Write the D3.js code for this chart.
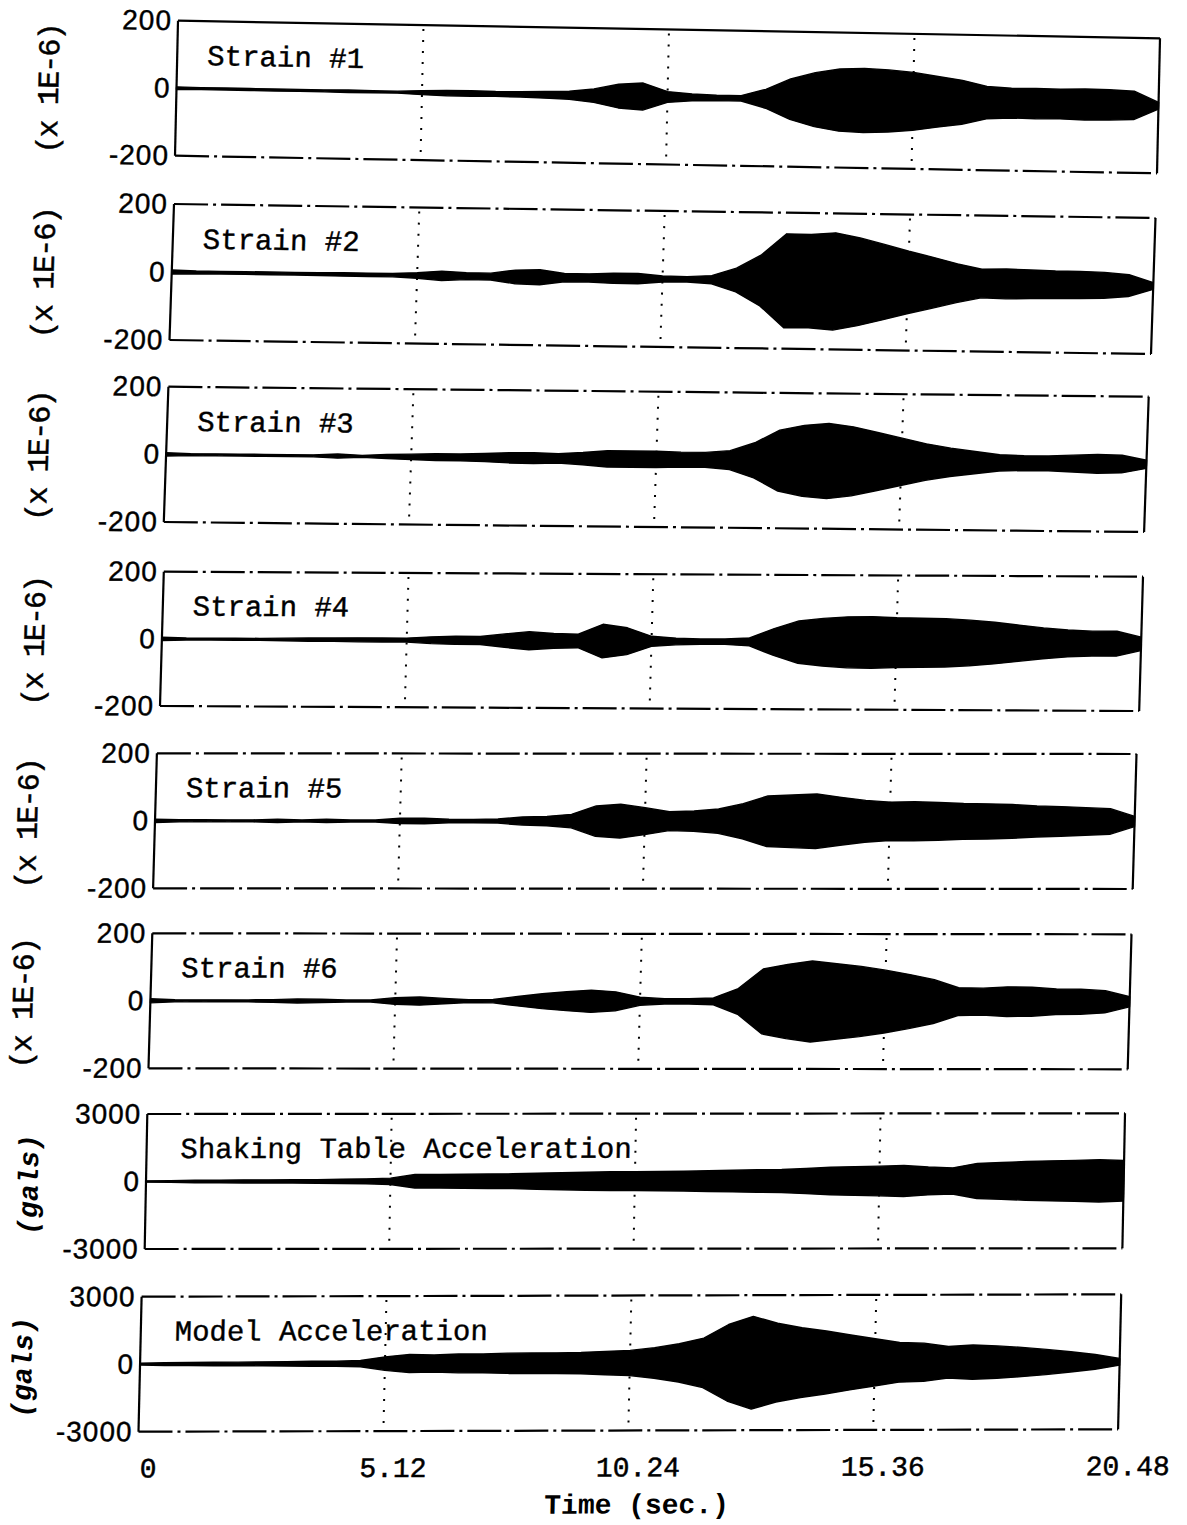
<!DOCTYPE html>
<html>
<head>
<meta charset="utf-8">
<script src="https://cdn.jsdelivr.net/npm/d3@7/dist/d3.min.js"></script>
<style>
  body { margin: 0; background: #fff; }
  svg { display: block; }
  .ytick text { font-family: "Liberation Sans", Arial, sans-serif; font-size: 28px; letter-spacing: 1px; fill: #000; stroke: #000; stroke-width: 0.4px; }
  .xtick text { font-family: "Liberation Mono", monospace; font-size: 28px; fill: #000; stroke: #000; stroke-width: 0.5px; }
  .title { font-family: "Liberation Mono", monospace; font-size: 29px; fill: #000; stroke: #000; stroke-width: 0.4px; }
  .ylab { font-family: "Liberation Mono", monospace; font-size: 30px; letter-spacing: -1.8px; fill: #000; stroke: #000; stroke-width: 0.5px; }
  .ylab.acc { font-style: italic; font-weight: bold; font-size: 28px; letter-spacing: 0; stroke-width: 0; }
  .xlab { font-family: "Liberation Mono", monospace; font-size: 28px; font-weight: bold; fill: #000; }
</style>
</head>
<body>
<div id="chart"></div>
<script>
// sample times (sec.) of the envelope readings
const times = [0, 0.512, 1.024, 1.536, 2.048, 2.56, 3.072, 3.584, 4.096, 4.608,
  5.12, 5.632, 6.144, 6.656, 7.168, 7.68, 8.192, 8.704, 9.216, 9.728,
  10.24, 10.752, 11.264, 11.776, 12.288, 12.8, 13.312, 13.824, 14.336, 14.848,
  15.36, 15.872, 16.384, 16.896, 17.408, 17.92, 18.432, 18.944, 19.456, 19.968, 20.48];

// peak amplitude envelopes (x 1E-6 for strains, gals for accelerations)
const strain1 = [4, 3, 3, 3, 3, 3, 3, 4, 3, 3,
  6, 8, 8, 7, 8, 10, 12, 20, 35, 40,
  16, 10, 8, 8, 28, 60, 80, 92, 95, 92,
  86, 75, 65, 48, 44, 45, 44, 46, 45, 42, 10];
const strain2 = [6, 4, 4, 4, 4, 4, 4, 5, 5, 5,
  8, 14, 10, 10, 20, 22, 12, 12, 15, 15,
  9, 8, 12, 35, 75, 138, 137, 143, 129, 111,
  92, 75, 57, 42, 44, 42, 40, 40, 38, 32, 10];
const strain3 = [5, 3, 3, 3, 3, 3, 3, 6, 3, 6,
  8, 10, 10, 12, 15, 16, 14, 18, 24, 24,
  24, 22, 22, 28, 52, 90, 105, 111, 102, 86,
  70, 54, 42, 33, 24, 22, 22, 25, 28, 26, 12];
const strain4 = [5, 3, 3, 3, 3, 4, 5, 5, 6, 6,
  6, 10, 12, 12, 20, 27, 22, 20, 50, 40,
  15, 10, 8, 8, 12, 40, 63, 71, 76, 77,
  74, 73, 72, 68, 62, 54, 46, 40, 37, 37, 20];
const strain5 = [5, 3, 3, 3, 3, 5, 3, 5, 3, 3,
  8, 8, 5, 5, 6, 12, 14, 20, 45, 50,
  40, 28, 30, 36, 52, 75, 78, 81, 71, 62,
  57, 58, 56, 53, 52, 50, 46, 44, 41, 38, 15];
const strain6 = [6, 3, 3, 3, 3, 4, 6, 5, 3, 3,
  10, 12, 8, 4, 5, 14, 22, 28, 33, 28,
  12, 8, 8, 10, 38, 96, 110, 120, 112, 104,
  93, 80, 65, 41, 40, 44, 43, 38, 37, 33, 15];
const tableAcc = [30, 40, 60, 60, 70, 70, 70, 80, 100, 110,
  140, 300, 300, 310, 320, 330, 360, 380, 400, 420,
  420, 430, 440, 460, 480, 500, 510, 560, 610, 640,
  660, 690, 620, 580, 780, 820, 860, 890, 910, 940, 900];
const modelAcc = [40, 60, 70, 80, 80, 90, 100, 110, 110, 140,
  300, 400, 380, 420, 420, 450, 460, 460, 470, 520,
  560, 680, 850, 1100, 1700, 2060, 1750, 1550, 1400, 1220,
  1050, 880, 850, 700, 760, 720, 650, 560, 450, 330, 150];

const titles = ['Strain #1', 'Strain #2', 'Strain #3', 'Strain #4', 'Strain #5', 'Strain #6',
  'Shaking Table Acceleration', 'Model Acceleration'];
const series = [strain1, strain2, strain3, strain4, strain5, strain6, tableAcc, modelAcc];
const strainTicks = [200, 0, -200];
const accTicks = [3000, 0, -3000];
const gridTimes = [5.12, 10.24, 15.36];
const xTicks = [0, 5.12, 10.24, 15.36, 20.48];
const xTickLabels = ['0', '5.12', '10.24', '15.36', '20.48'];

// corners of each scanned frame (top-left, top-right, bottom-left); the scan is slightly skewed
const frames = [
  { tl: [178, 20.7], tr: [1160, 38.3], bl: [175, 155.7] },
  { tl: [174, 204], tr: [1155.5, 218], bl: [169.5, 340] },
  { tl: [168.4, 386.7], tr: [1148.7, 396.7], bl: [163.8, 522] },
  { tl: [163.8, 571.7], tr: [1143, 576.7], bl: [160, 706] },
  { tl: [156.9, 753.3], tr: [1136.5, 754], bl: [153.1, 888.3] },
  { tl: [152.3, 933.3], tr: [1131.5, 934.3], bl: [148.5, 1068.3] },
  { tl: [147.3, 1114], tr: [1125, 1113.3], bl: [144.7, 1249] },
  { tl: [141.6, 1296.7], tr: [1121.2, 1294.3], bl: [138.5, 1431.7] }
];

const width = 1187, height = 1525;
const W = 980, H = 135;

const svg = d3.select('#chart')
  .append('svg')
  .attr('width', width)
  .attr('height', height);

const x = d3.scaleLinear().domain([0, 20.48]).range([0, W]);

series.forEach((vals, i) => {
  const f = frames[i];
  const isAcc = i >= 6;
  const ticks = isAcc ? accTicks : strainTicks;
  const y = d3.scaleLinear().domain([ticks[2], ticks[0]]).range([H, 0]);

  const a = (f.tr[0] - f.tl[0]) / W, b = (f.tr[1] - f.tl[1]) / W;
  const c = (f.bl[0] - f.tl[0]) / H, d = (f.bl[1] - f.tl[1]) / H;
  const g = svg.append('g')
    .attr('transform', `matrix(${a},${b},${c},${d},${f.tl[0]},${f.tl[1]})`);

  // dotted time grid
  g.selectAll('.grid')
    .data(gridTimes)
    .enter()
    .append('line')
    .attr('x1', t => x(t)).attr('x2', t => x(t))
    .attr('y1', 4).attr('y2', H)
    .attr('stroke', '#000')
    .attr('stroke-width', 2)
    .attr('stroke-dasharray', '2,9');

  // zero line
  g.append('line')
    .attr('x1', 0).attr('x2', W)
    .attr('y1', y(0)).attr('y2', y(0))
    .attr('stroke', '#000')
    .attr('stroke-width', 1.6)
    .attr('stroke-dasharray', '14,5');

  // frame: solid sides, dash-dot top and bottom
  g.append('line').attr('x1', 0).attr('x2', 0).attr('y1', 0).attr('y2', H)
    .attr('stroke', '#000').attr('stroke-width', 2.2);
  g.append('line').attr('x1', W).attr('x2', W).attr('y1', 0).attr('y2', H)
    .attr('stroke', '#000').attr('stroke-width', 2.2);
  [0, H].forEach(yy => {
    g.append('line').attr('x1', 0).attr('x2', W).attr('y1', yy).attr('y2', yy)
      .attr('stroke', '#000').attr('stroke-width', 2.2)
      .attr('stroke-dasharray', i === 0 && yy === 0 ? null : '34,5,3,5');
  });

  // record envelope
  const pts = times.map((t, k) => ({ t: t, v: vals[k] }));
  const area = d3.area()
    .x(p => x(p.t))
    .y0(p => y(-p.v))
    .y1(p => y(p.v))
    .curve(d3.curveLinear);
  g.append('path')
    .datum(pts)
    .attr('d', area)
    .attr('fill', '#000')
    .attr('stroke', '#000')
    .attr('stroke-width', 1.4)
    .attr('stroke-linejoin', 'round');

  // y axis labels
  const yAxis = g.append('g')
    .attr('class', 'ytick')
    .call(d3.axisLeft(y).tickValues(ticks).tickSize(0).tickPadding(6).tickFormat(v => String(v)));
  yAxis.select('.domain').remove();

  // panel title
  g.append('text')
    .attr('class', 'title')
    .attr('x', isAcc ? 34 : 30)
    .attr('y', 44)
    .text(titles[i]);

  // unit label
  g.append('text')
    .attr('class', isAcc ? 'ylab acc' : 'ylab')
    .attr('transform', `translate(${isAcc ? -116 : -126},${H / 2 + 3}) rotate(-90)`)
    .attr('text-anchor', 'middle')
    .attr('dominant-baseline', 'central')
    .text(isAcc ? '(gals)' : '(x 1E-6)');

  if (i === series.length - 1) {
    const xAxis = g.append('g')
      .attr('class', 'xtick')
      .attr('transform', `translate(0,${H})`)
      .call(d3.axisBottom(x).tickValues(xTicks).tickSize(0).tickPadding(26)
        .tickFormat((v, k) => xTickLabels[k]));
    xAxis.select('.domain').remove();
    xAxis.selectAll('text').attr('dx', 10);

    g.append('text')
      .attr('class', 'xlab')
      .attr('x', W / 2 + 10)
      .attr('y', H + 83)
      .attr('text-anchor', 'middle')
      .text('Time (sec.)');
  }
});
</script>
</body>
</html>
